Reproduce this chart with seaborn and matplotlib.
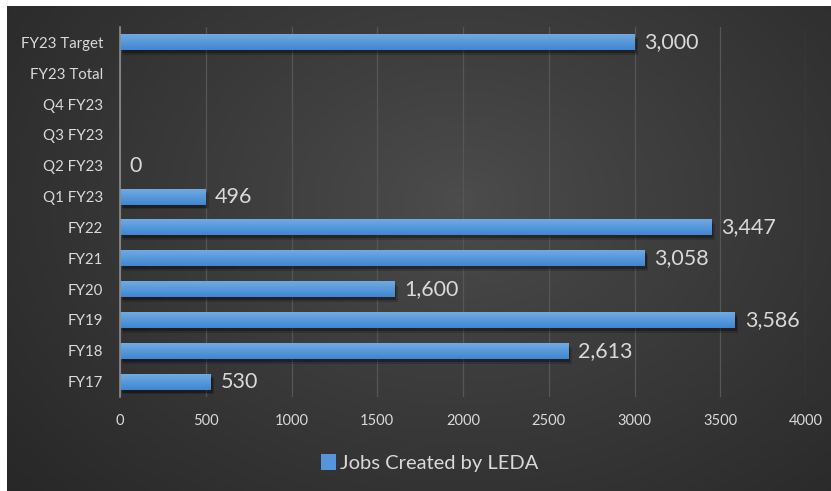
import numpy as np
import pandas as pd
import matplotlib
matplotlib.use("Agg")
import matplotlib.pyplot as plt
import matplotlib.patheffects as pe
from matplotlib.colors import LinearSegmentedColormap
from matplotlib.patches import Patch
import seaborn as sns

# ---- data -------------------------------------------------------------
categories = ["FY23 Target", "FY23 Total", "Q4 FY23", "Q3 FY23", "Q2 FY23",
              "Q1 FY23", "FY22", "FY21", "FY20", "FY19", "FY18", "FY17"]
jobs = [3000, np.nan, np.nan, np.nan, 0, 496, 3447, 3058, 1600, 3586, 2613, 530]
x_ticks = [0, 500, 1000, 1500, 2000, 2500, 3000, 3500, 4000]
series_name = "Jobs Created by LEDA"

df = pd.DataFrame({"period": categories, "jobs": jobs})

# ---- style ------------------------------------------------------------
sns.set_theme(style="dark")
plt.rcParams["font.family"] = ["Lato", "DejaVu Sans"]
TEXT = "#d9d9d9"
BAR = "#5596da"

fig = plt.figure(figsize=(8.31, 4.91), dpi=100, facecolor="white")

# dark panel with a soft radial glow
bg = fig.add_axes([7 / 831, 0, 1 - 7 / 831, 1 - 6 / 491])
h, w = 485, 824
yy, xx = np.mgrid[0:h, 0:w]
r = np.hypot((xx - 0.55 * w) / (0.75 * w), (yy - 0.40 * h) / (0.95 * h))
shade = 0.30 - 0.15 * np.clip(r, 0, 1) ** 0.9
bg.imshow(np.dstack([shade] * 3), aspect="auto", interpolation="bilinear")
bg.set_axis_off()

# main chart area
ax = fig.add_axes([120 / 831, 1 - 397 / 491, 686 / 831, 370 / 491])
ax.set_facecolor("none")
sns.barplot(data=df, x="jobs", y="period", order=categories, orient="h",
            color=BAR, saturation=1, width=0.52, ax=ax, zorder=3,
            edgecolor="none", linewidth=0)

# gradient fill + soft drop shadow on every bar
grad = LinearSegmentedColormap.from_list("bar", ["#74ace3", "#3f87d2"])
for patch in ax.patches:
    wdt = patch.get_width()
    if not np.isfinite(wdt) or wdt <= 0:
        patch.set_visible(False)
        continue
    patch.set_path_effects([
        pe.SimplePatchShadow(offset=(2.5, -3.5), shadow_rgbFace="black", alpha=0.18),
        pe.SimplePatchShadow(offset=(1.5, -2.2), shadow_rgbFace="black", alpha=0.30),
        pe.Normal()])
    x0, y0 = patch.get_x(), patch.get_y()
    hgt = patch.get_height()
    im = ax.imshow(np.linspace(0, 1, 50).reshape(-1, 1), cmap=grad, aspect="auto",
                   extent=[x0, x0 + wdt, y0 + hgt, y0], zorder=4,
                   interpolation="bilinear")
    im.set_clip_path(patch)

ax.set_xlim(0, 4000)
ax.set_ylim(len(categories) - 0.5, -0.5)

# value labels
cont = ax.containers[0]
labels = ["" if not np.isfinite(v) else f"{v:,.0f}" for v in cont.datavalues]
ax.bar_label(cont, labels=labels, padding=7, fontsize=15.5, color=TEXT, zorder=6)

# axes cosmetics
ax.set_xticks(x_ticks)
ax.set_xticklabels([str(t) for t in x_ticks])
ax.xaxis.grid(True, color="#565656", lw=0.9, zorder=0)
ax.yaxis.grid(False)
for s in ["top", "right", "bottom"]:
    ax.spines[s].set_visible(False)
ax.spines["left"].set_color("#8c8c8c")
ax.spines["left"].set_linewidth(1.2)
ax.spines["left"].set_zorder(5)
ax.tick_params(axis="y", length=0, pad=12, labelsize=10.8, labelcolor=TEXT)
ax.tick_params(axis="x", length=0, pad=12, labelsize=10.5, labelcolor=TEXT)
ax.set_xlabel("")
ax.set_ylabel("")

# legend
handle = Patch(facecolor=BAR, edgecolor="none", label=series_name)
fig.legend(handles=[handle], loc="center", bbox_to_anchor=(430 / 831, 1 - 463 / 491),
           frameon=False, fontsize=14.5, labelcolor=TEXT, handlelength=0.75,
           handleheight=0.8, handletextpad=0.2)

fig.savefig("out.png", dpi=100, facecolor="white")
